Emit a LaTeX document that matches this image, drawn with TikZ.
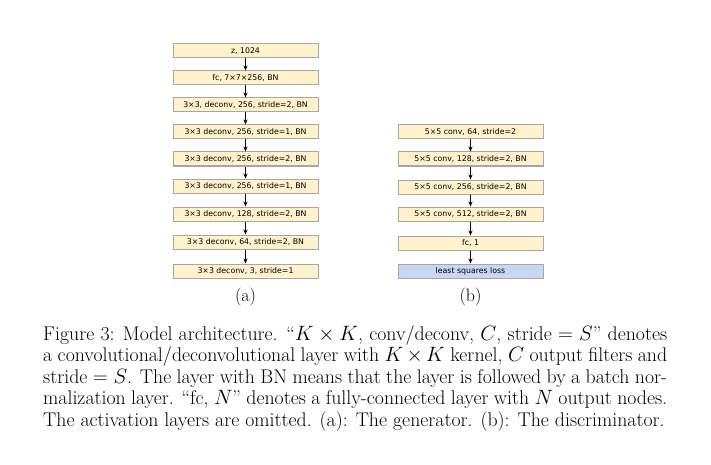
\documentclass[tikz,border=0pt]{standalone}
\usepackage{fontspec}
\newfontfamily\boxfont{DejaVu Sans}
\usetikzlibrary{arrows.meta}
\definecolor{boxy}{HTML}{FFF2CC}
\definecolor{boxb}{HTML}{C9D7F5}
\definecolor{boxl}{HTML}{A6A6A6}
\begin{document}
\begin{tikzpicture}[x=1pt,y=-1pt,
  lay/.style={draw=boxl,line width=1pt,fill=boxy,minimum width=145pt,minimum height=14pt,inner sep=0pt,font=\boxfont\fontsize{7.8}{8}\selectfont},
  loss/.style={lay,fill=boxb},
  arr/.style={-{Stealth[length=5pt,width=4pt]},line width=0.8pt}]
\useasboundingbox (0,0) rectangle (711,465);
\foreach \n/\y/\t in {a1/51/{z, 1024},a2/78/{fc, 7×7×256, BN},a3/105/{3×3, deconv, 256, stride=2, BN},a4/132/{3×3 deconv, 256, stride=1, BN},a5/159/{3×3 deconv, 256, stride=2, BN},a6/186/{3×3 deconv, 256, stride=1, BN},a7/214/{3×3 deconv, 128, stride=2, BN},a8/242/{3×3 deconv, 64, stride=2, BN},a9/271/{3×3 deconv, 3, stride=1}}
  \node[lay] (\n) at (245.5,\y) {\t};
\foreach \a/\b in {a1/a2,a2/a3,a3/a4,a4/a5,a5/a6,a6/a7,a7/a8,a8/a9} \draw[arr] (\a) -- (\b);
\foreach \n/\y/\t in {b1/132/{5×5 conv, 64, stride=2},b2/159/{5×5 conv, 128, stride=2, BN},b3/187/{5×5 conv, 256, stride=2, BN},b4/214/{5×5 conv, 512, stride=2, BN},b5/243/{fc, 1}}
  \node[lay] (\n) at (470.5,\y) {\t};
\node[loss] (b6) at (470.5,271) {least squares loss};
\foreach \a/\b in {b1/b2,b2/b3,b3/b4,b4/b5,b5/b6} \draw[arr] (\a) -- (\b);
\node[font=\fontsize{18}{20}\selectfont] (la) at (245.5,297) {(a)};
\node[font=\fontsize{18}{20}\selectfont] (lb) at (470.5,297) {(b)};
\node[anchor=north west,inner sep=0pt,text width=624pt,align=justify,font=\fontsize{19.8}{21.6}\selectfont] (cap) at (43,325)
{Figure 3: Model architecture. ``$K\times K$, conv/deconv, $C$, stride $=S$'' denotes\linebreak
a convolutional/deconvolutional layer with $K\times K$ kernel, $C$ output filters and\linebreak
stride $=S$. The layer with BN means that the layer is followed by a batch nor-\linebreak
malization layer. ``fc, $N$'' denotes a fully-connected layer with $N$ output nodes.\linebreak
The activation layers are omitted. (a): The generator. (b): The discriminator.};
\end{tikzpicture}
\end{document}
